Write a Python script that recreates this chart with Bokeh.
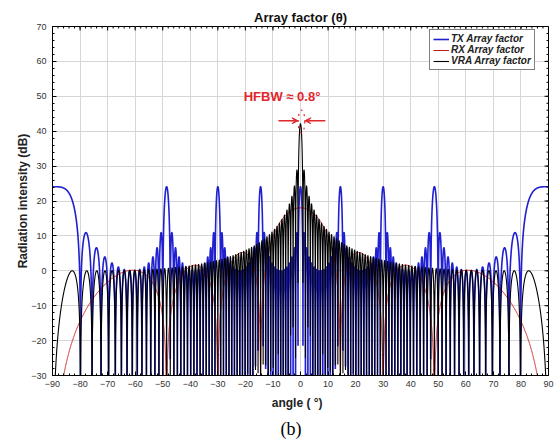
import numpy as np
from bokeh.plotting import figure
from bokeh.models import (Range1d, Legend, LegendItem, Label, Arrow,
                          VeeHead, Title, FixedTicker)
from bokeh.embed import file_html
from bokeh.resources import INLINE

# ---- values ----
# main-lobe peaks: TX 24 dB (16 elements), RX 18 dB (8 elements), VRA 42 dB (128 elements)
# TX grating lobes at sin(theta) = k/4 (14.5, 30, 48.6, 90 deg) -> 4 wavelength spacing
series_names = ["TX Array factor", "RX Array factor", "VRA Array factor"]
element_counts = [16, 8, 128]
spacings_wl = [4.0, 0.5, 0.5]
series_colors = ["#2020d0", "#c41a1a", "#000000"]
x_ticks = list(range(-90, 91, 10))
y_ticks = list(range(-30, 71, 10))
x_minor = list(range(-90, 91, 2))
y_minor = list(range(-30, 71, 2))
angle_deg = np.arange(-90.0, 90.0001, 0.01)


def array_factor_db(n, d):
    u = np.pi * d * np.sin(np.radians(angle_deg))
    num = np.sin(n * u)
    den = np.sin(u)
    small = np.abs(den) < 1e-9
    af = np.where(small, n, np.abs(num) / np.where(small, 1.0, np.abs(den)))
    return 20 * np.log10(np.maximum(af, 1e-4))


curves = [array_factor_db(n, d) for n, d in zip(element_counts, spacings_wl)]

XR = (-90, 90)
YR = (-30, 70)
p = figure(width=558, height=448, x_range=Range1d(*XR), y_range=Range1d(*YR),
           output_backend="svg", toolbar_location=None,
           min_border_left=52, min_border_right=10, min_border_top=26, min_border_bottom=73)

p.title.text = "Array factor (\u03b8)"
p.title.align = "center"
p.title.text_font = "Liberation Sans"
p.title.text_font_size = "13px"
p.title.text_font_style = "bold"
p.title.text_color = "#111111"
p.title.standoff = 3

# draw order as in the legend: TX, RX, VRA (VRA on top)
r_tx = p.line(angle_deg, curves[0], line_color=series_colors[0], line_width=1.6)
r_rx = p.line(angle_deg, curves[1], line_color=series_colors[1], line_width=1.0)
r_vra = p.line(angle_deg, curves[2], line_color=series_colors[2], line_width=1.1)

xa = p.xaxis[0]
xa.ticker = FixedTicker(ticks=x_ticks, minor_ticks=x_minor)
ya = p.yaxis[0]
ya.ticker = FixedTicker(ticks=y_ticks, minor_ticks=y_minor)
for ax in (xa, ya):
    ax.major_tick_in = 4
    ax.major_tick_out = 0
    ax.minor_tick_in = 2
    ax.minor_tick_out = 0
    ax.major_label_text_font = "Liberation Sans"
    ax.major_label_text_font_size = "9px"
    ax.major_label_text_color = "#333333"
    ax.axis_label_text_font = "Liberation Sans"
    ax.axis_label_text_font_size = "12px"
    ax.axis_label_text_font_style = "bold"
    ax.axis_label_text_color = "#222222"
xa.axis_label = "angle (   \u00b0)"
xa.major_label_standoff = 5
xa.axis_label_standoff = 6
ya.axis_label = "Radiation intensity (dB)"
ya.major_label_standoff = 6
ya.axis_label_standoff = -2

# inward ticks on the top and right edges of the box (MATLAB style)
fw = 558 - 52 - 10
fh = 448 - 26 - 73
dx = (XR[1] - XR[0]) / fw
dy = (YR[1] - YR[0]) / fh
p.segment(x0=x_ticks, y0=[YR[1]] * len(x_ticks), x1=x_ticks, y1=[YR[1] - 4 * dy] * len(x_ticks),
          line_color="#000000", line_width=1)
p.segment(x0=x_minor, y0=[YR[1]] * len(x_minor), x1=x_minor, y1=[YR[1] - 2 * dy] * len(x_minor),
          line_color="#000000", line_width=1)
p.segment(x0=[XR[1]] * len(y_ticks), y0=y_ticks, x1=[XR[1] - 4 * dx] * len(y_ticks), y1=y_ticks,
          line_color="#000000", line_width=1)
p.segment(x0=[XR[1]] * len(y_minor), y0=y_minor, x1=[XR[1] - 2 * dx] * len(y_minor), y1=y_minor,
          line_color="#000000", line_width=1)

p.xgrid.ticker = FixedTicker(ticks=x_ticks)
p.ygrid.ticker = FixedTicker(ticks=y_ticks)
p.grid.grid_line_color = "#d6d6d6"
p.grid.grid_line_width = 1
p.outline_line_color = "#000000"
p.outline_line_width = 1
p.background_fill_color = "#ffffff"
p.border_fill_color = "#ffffff"

legend = Legend(items=[LegendItem(label=series_names[0], renderers=[r_tx]),
                       LegendItem(label=series_names[1], renderers=[r_rx]),
                       LegendItem(label=series_names[2], renderers=[r_vra])],
                location=(377, 305))
legend.label_text_font = "Liberation Sans"
legend.label_text_font_size = "10px"
legend.label_text_font_style = "bold italic"
legend.label_text_color = "#222222"
legend.border_line_color = "#000000"
legend.border_line_width = 1
legend.background_fill_color = "#ffffff"
legend.background_fill_alpha = 1
legend.padding = 3
legend.spacing = 0
legend.margin = 0
legend.label_standoff = 2
legend.glyph_width = 16
legend.glyph_height = 10
legend.label_height = 10
p.add_layout(legend)

red = "#e3262b"
p.add_layout(Label(x=-6.7, y=50, text="HFBW \u2248 0.8\u00b0", text_color=red,
                   text_font="Liberation Sans", text_font_size="13px", text_font_style="bold",
                   text_align="center", text_baseline="middle"))
p.add_layout(Arrow(end=VeeHead(size=6, line_color=red, fill_color=red, line_width=1),
                   x_start=-8.0, y_start=43, x_end=-0.9, y_end=43,
                   line_color=red, line_width=1.5))
p.add_layout(Arrow(end=VeeHead(size=6, line_color=red, fill_color=red, line_width=1),
                   x_start=9.0, y_start=43, x_end=1.6, y_end=43,
                   line_color=red, line_width=1.5))
p.ellipse(x=[0.35], y=[42.8], width=2.4, height=6.5, fill_alpha=0,
          line_color=red, line_dash="dotted", line_width=1.2)

caption = Title(text="(b)", align="left", offset=228, standoff=8, text_font="Liberation Serif",
                text_font_size="18px", text_font_style="normal", text_color="#000000")
p.add_layout(caption, "below")

open("out.html", "w").write(file_html(p, INLINE))
